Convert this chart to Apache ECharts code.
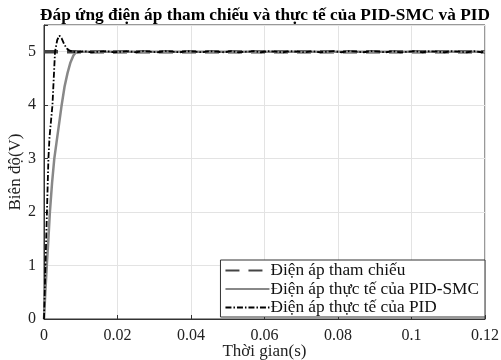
<!DOCTYPE html>
<html>
<head>
<meta charset="utf-8">
<script src="https://cdn.jsdelivr.net/npm/echarts@6/dist/echarts.min.js"></script>
<style>
  html, body { margin: 0; padding: 0; background: #fff; }
  #chart { width: 501px; height: 360px; }
</style>
</head>
<body>
<div id="chart"></div>
<script>
const legendNames = ["Điện áp tham chiếu", "Điện áp thực tế của PID-SMC", "Điện áp thực tế của PID"];

// reference step
const refT = [0, 0.12];
const refV = [5, 5];

// PID-SMC response
const smcT = [0, 0.0004, 0.0008, 0.0012, 0.0016, 0.0022, 0.0028, 0.0034, 0.004, 0.0048, 0.0056, 0.0064, 0.0072, 0.008, 0.0088, 0.12];
const smcV = [0, 0.55, 1.05, 1.5, 2.0, 2.55, 3.0, 3.3, 3.6, 4.0, 4.35, 4.6, 4.8, 4.93, 5.0, 5.0];

// PID response (transient + ripple at steady state)
const pidT = [0, 0.0004, 0.0008, 0.0012, 0.0015, 0.0023, 0.003, 0.0036, 0.0042, 0.0048, 0.0055, 0.0062, 0.007, 0.0078,
  0.009, 0.011, 0.013, 0.015, 0.017, 0.019, 0.021, 0.023, 0.025, 0.027, 0.029, 0.031, 0.033, 0.035, 0.037, 0.039,
  0.041, 0.043, 0.045, 0.047, 0.049, 0.051, 0.053, 0.055, 0.057, 0.059, 0.061, 0.063, 0.065, 0.067, 0.069, 0.071,
  0.073, 0.075, 0.077, 0.079, 0.081, 0.083, 0.085, 0.087, 0.089, 0.091, 0.093, 0.095, 0.097, 0.099, 0.101, 0.103,
  0.105, 0.107, 0.109, 0.111, 0.113, 0.115, 0.117, 0.119, 0.12];
const pidV = [0, 1, 2, 3, 3.4, 4, 5, 5.22, 5.3, 5.25, 5.14, 5.06, 5.02, 5.0,
  4.99, 5.01, 4.99, 5.0, 5.01, 4.99, 5.0, 5.01, 4.99, 5.01, 5.0, 4.99, 5.01, 5.0, 4.99, 5.01,
  5.0, 4.99, 5.01, 5.0, 4.99, 5.01, 4.99, 5.0, 5.01, 4.99, 5.01, 5.0, 4.99, 5.01, 5.0, 4.99,
  5.01, 4.99, 5.0, 5.01, 4.99, 5.01, 5.0, 4.99, 5.01, 5.0, 4.99, 5.01, 4.99, 5.0, 5.01, 4.99,
  5.01, 5.0, 4.99, 5.01, 5.0, 4.99, 5.01, 4.99, 5.0];

const xTicks = [0, 0.02, 0.04, 0.06, 0.08, 0.1, 0.12];
const yTicks = [0, 1, 2, 3, 4, 5];

const zip = (t, v) => t.map((x, i) => [x, v[i]]);
const serif = "Liberation Serif";

const chart = echarts.init(document.getElementById("chart"));
chart.setOption({
  animation: false,
  title: {
    text: "Đáp ứng điện áp tham chiếu và thực tế của PID-SMC và PID",
    left: 260,
    textAlign: "center",
    top: 2,
    textStyle: { fontFamily: serif, fontSize: 17.3, fontWeight: "bold", color: "#000" },
  },
  grid: {
    left: 44,
    right: 16,
    top: 25,
    bottom: 41,
    outerBoundsMode: "none",
    containLabel: false,
    show: true,
    borderColor: "#333",
    borderWidth: 1,
  },
  legend: {
    data: legendNames,
    orient: "vertical",
    right: 16,
    bottom: 43,
    itemWidth: 44,
    itemHeight: 16,
    itemGap: 1.5,
    padding: [2, 6, 1, 4],
    backgroundColor: "#fff",
    borderColor: "#333",
    borderWidth: 1,
    itemStyle: { opacity: 0 },
    textStyle: { fontFamily: serif, fontSize: 17.3, color: "#111", padding: [0, 0, 0, -4] },
  },
  xAxis: {
    type: "value",
    min: 0,
    max: 0.12,
    interval: 0.02,
    name: "Thời gian(s)",
    nameLocation: "middle",
    nameGap: 24,
    nameMoveOverlap: false,
    nameTextStyle: { fontFamily: serif, fontSize: 17, color: "#222" },
    axisLine: { lineStyle: { color: "#333" } },
    axisTick: { inside: true, length: 4, lineStyle: { color: "#333" } },
    axisLabel: {
      fontFamily: serif, fontSize: 16, color: "#222", margin: 9,
      formatter: (v) => (xTicks.includes(+v.toFixed(2)) ? String(+v.toFixed(2)) : ""),
    },
    splitLine: { show: true, lineStyle: { color: "#e3e3e3" } },
  },
  yAxis: {
    type: "value",
    min: 0,
    max: 5.5,
    interval: 1,
    name: "Biên độ(V)",
    nameLocation: "middle",
    nameGap: 20,
    nameMoveOverlap: false,
    nameTextStyle: { fontFamily: serif, fontSize: 17, color: "#222" },
    axisLine: { show: true, lineStyle: { color: "#333" } },
    axisTick: { show: true, inside: true, length: 4, lineStyle: { color: "#333" } },
    axisLabel: {
      fontFamily: serif, fontSize: 16, color: "#222", margin: 8,
      formatter: (v) => (yTicks.includes(v) ? String(v) : ""),
    },
    splitLine: { show: true, lineStyle: { color: "#e3e3e3" } },
  },
  series: [
    {
      name: legendNames[0],
      type: "line",
      data: zip(refT, refV),
      symbol: "none",
      lineStyle: { color: "#444", width: 3.5, type: [14, 9] },
      itemStyle: { color: "#444" },
    },
    {
      name: legendNames[1],
      type: "line",
      data: zip(smcT, smcV),
      symbol: "none",
      lineStyle: { color: "#888", width: 2.5 },
      itemStyle: { color: "#888" },
    },
    {
      name: legendNames[2],
      type: "line",
      data: zip(pidT, pidV),
      symbol: "none",
      lineStyle: { color: "#000", width: 1.8, type: [6, 2, 1.5, 2] },
      itemStyle: { color: "#000" },
    },
  ],
});
</script>
</body>
</html>
